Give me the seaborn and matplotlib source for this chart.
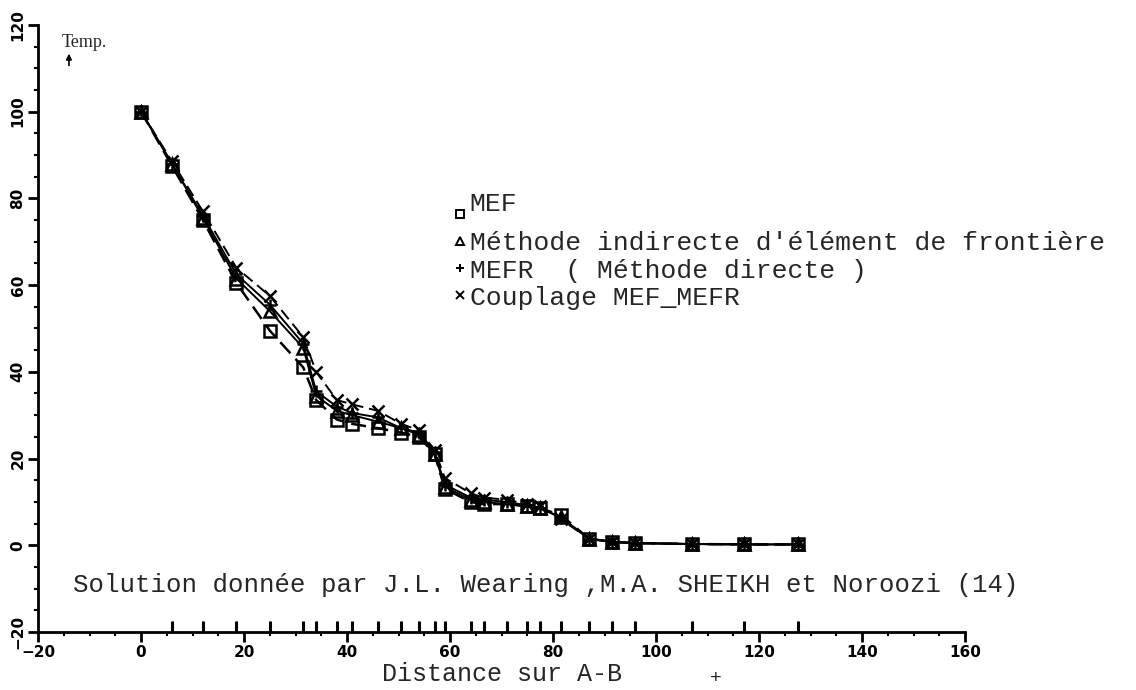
import matplotlib
matplotlib.use("Agg")
import matplotlib.pyplot as plt
from matplotlib.lines import Line2D
from matplotlib.ticker import MultipleLocator
import pandas as pd
import seaborn as sns

# Nodes along the A-B path and temperatures computed by each method
distance = [0, 6, 12, 18.5, 25, 31.5, 34, 38, 41, 46, 50.5, 54, 57, 59,
            64, 66.5, 71, 75, 77.5, 81.5, 87, 91.5, 96, 107, 117, 127.5]
mef = [100, 87.5, 75, 60.5, 49.5, 41, 33.5, 29, 28, 27, 26, 25, 21, 13,
       10, 9.5, 9.5, 9, 8.5, 7, 1.5, 0.8, 0.5, 0.3, 0.2, 0.2]
indirecte = [100, 88, 75.5, 61.5, 54, 45.5, 34.5, 31, 30, 28.5, 27, 25.5, 21, 13.5,
             10.5, 10, 9.5, 9, 8.5, 6.5, 1.5, 0.8, 0.5, 0.3, 0.2, 0.2]
mefr = [100, 88, 76, 62.5, 55.5, 46.5, 35.5, 32, 30.5, 29.5, 27, 26, 21.5, 14,
        11, 10.5, 10, 9.2, 8.7, 6.3, 1.5, 0.8, 0.5, 0.3, 0.2, 0.2]
couplage = [100, 88.5, 77, 64, 57.5, 48, 40, 33.5, 32.5, 31, 28, 26.5, 22, 15.5,
            12, 11, 10.5, 9.5, 9, 6, 1.5, 0.8, 0.5, 0.3, 0.2, 0.2]

labels = ["MEF",
          "Méthode indirecte d'élément de frontière",
          "MEFR  ( Méthode directe )",
          "Couplage MEF_MEFR"]
x_ticks = [-20, 0, 20, 40, 60, 80, 100, 120, 140, 160]
y_ticks = [-20, 0, 20, 40, 60, 80, 100, 120]

series = [mef, indirecte, mefr, couplage]
markers = ["s", "^", "+", "x"]
dashes = [(6, 3), "", "", (6, 3)]
widths = [1.8, 1.4, 1.4, 1.4]

sns.set_theme(style="ticks")
plt.rcParams["font.family"] = ["DejaVu Sans"]
mono = "Liberation Mono"

fig = plt.figure(figsize=(11.36, 6.9), dpi=100)
ax = fig.add_axes([0.0335, 0.084, 0.816, 0.88])

for vals, mk, ds, lw in zip(series, markers, dashes, widths):
    df = pd.DataFrame({"distance": distance, "temp": vals})
    sns.lineplot(data=df, x="distance", y="temp", ax=ax, color="black",
                 linewidth=lw, marker=mk, markersize=9,
                 markerfacecolor="none" if mk in ("s", "^") else "black",
                 markeredgecolor="black", markeredgewidth=1.8,
                 legend=False)
    if ds:
        ax.lines[-1].set_dashes(ds)

# Node positions marked along the horizontal axis
sns.rugplot(x=distance[1:], ax=ax, height=0.018, color="black", linewidth=2.2,
            clip_on=False)

ax.set_xlim(-20, 160)
ax.set_ylim(-20, 120)
ax.set_xticks(x_ticks)
ax.set_yticks(y_ticks)
ax.xaxis.set_minor_locator(MultipleLocator(5))
ax.yaxis.set_minor_locator(MultipleLocator(5))
ax.tick_params(which="major", direction="out", length=7, width=2, colors="black",
               labelsize=11)
ax.tick_params(which="minor", direction="out", length=3, width=1.5, colors="black")
for lab in ax.get_xticklabels():
    lab.set_fontweight("bold")
for lab in ax.get_yticklabels():
    lab.set_fontweight("bold")
    lab.set_rotation(90)
    lab.set_verticalalignment("center")
ax.tick_params(axis="x", pad=2)
ax.tick_params(axis="y", pad=2)

sns.despine(ax=ax)
for sp in ("left", "bottom"):
    ax.spines[sp].set_linewidth(2)
    ax.spines[sp].set_color("black")

ax.set_xlabel("Distance sur A-B", fontfamily=mono, fontsize=18, labelpad=2)
ax.set_ylabel("")
ax.text(111.5, -30.6, "+", fontfamily=mono, fontsize=14, ha="center", va="center",
        clip_on=False)

ax.text(-15.5, 116, "Temp.", fontfamily="Liberation Serif", fontsize=13,
        ha="left", va="center")
ax.annotate("", xy=(-14, 114), xytext=(-14, 110),
            arrowprops=dict(arrowstyle="-|>", color="black", lw=1.2,
                            mutation_scale=8))

ax.text(-13.2, -9.2, "Solution donnée par J.L. Wearing ,M.A. SHEIKH et Noroozi (14)",
        fontfamily=mono, fontsize=18.5, ha="left", va="center")

handles = [Line2D([], [], linestyle="none", marker=mk, color="black",
                  markerfacecolor="none" if mk in ("s", "^") else "black",
                  markersize=6, markeredgewidth=1.4)
           for mk in markers]
leg = ax.legend(handles, labels, loc="upper left", bbox_to_anchor=(0.437, 0.722),
                frameon=False, handlelength=0.45, handletextpad=0.15,
                labelspacing=0.12, borderaxespad=0,
                prop={"family": mono, "size": 19})
# the first entry's label sits raised above its marker
leg.get_texts()[0].set_position((0, 12))

fig.savefig("out.png", dpi=100, facecolor="white")
